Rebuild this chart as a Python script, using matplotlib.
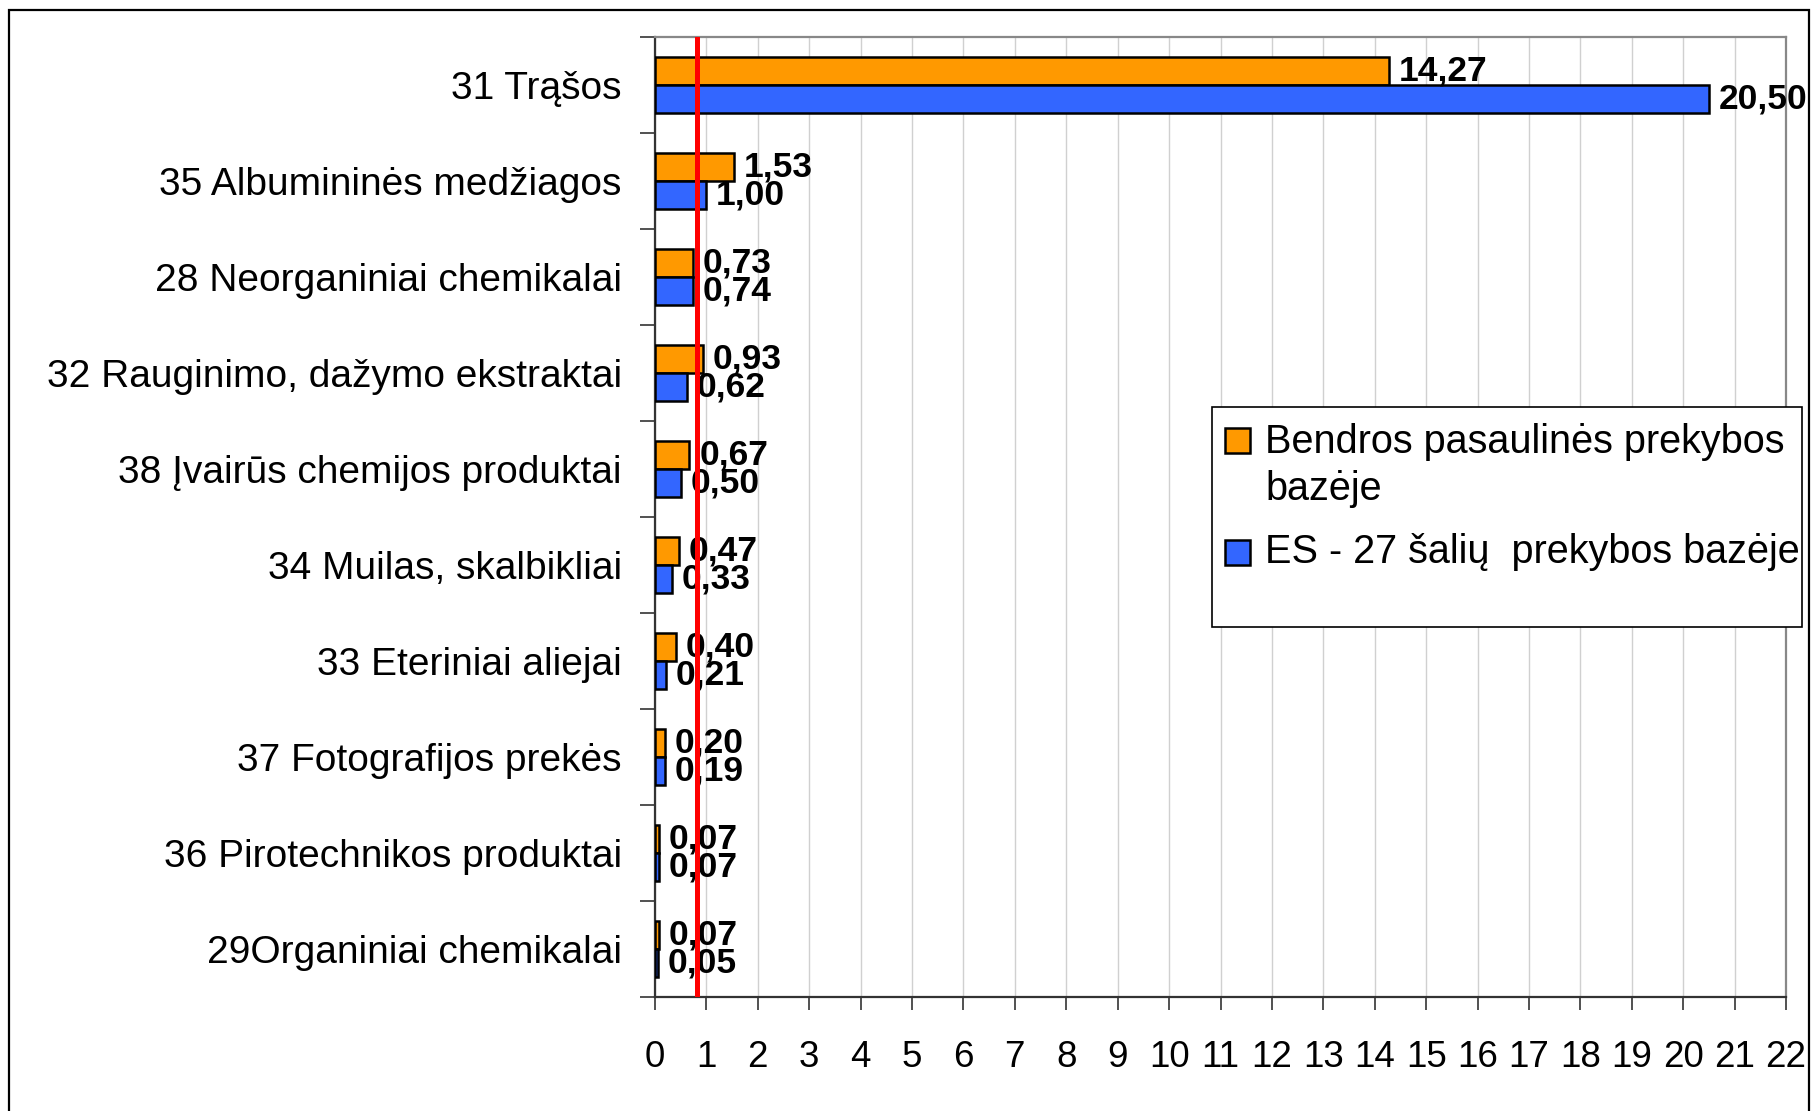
import matplotlib
matplotlib.use("Agg")
import matplotlib.pyplot as plt
from matplotlib.patches import Rectangle

# ==========================================================
# Data
# ==========================================================

categories = [
    "31 Trąšos",
    "35 Albumininės medžiagos",
    "28 Neorganiniai chemikalai",
    "32 Rauginimo, dažymo ekstraktai",
    "38 Įvairūs chemijos produktai",
    "34 Muilas, skalbikliai",
    "33 Eteriniai aliejai",
    "37 Fotografijos prekės",
    "36 Pirotechnikos produktai",
    "29Organiniai chemikalai",
]

world_values = [14.27, 1.53, 0.73, 0.93, 0.67, 0.47, 0.40, 0.20, 0.07, 0.07]
eu_values = [20.50, 1.00, 0.74, 0.62, 0.50, 0.33, 0.21, 0.19, 0.07, 0.05]

series_names = [
    "Bendros pasaulinės prekybos\nbazėje",
    "ES - 27 šalių  prekybos bazėje",
]

ref_line = 0.82
x_ticks = list(range(0, 23))

# ==========================================================
# Style
# ==========================================================

plt.rcParams["font.family"] = ["Liberation Sans", "DejaVu Sans"]

orange = "#FF9900"
blue = "#3366FF"
series_colors = [orange, blue]

W, H = 1811, 1111
fig = plt.figure(figsize=(W / 100, H / 100), dpi=100)

# outer frame
fig.patches.append(
    Rectangle(
        (9 / W, -0.05),
        1800 / W,
        1 - 10 / H + 0.05,
        transform=fig.transFigure,
        fill=False,
        edgecolor="black",
        linewidth=1.6,
    )
)

ax = fig.add_axes([655 / W, 1 - 997 / H, 1131 / W, 960 / H])

bar_h = 0.29
pos = list(range(len(categories)))

ax.barh(
    [p - bar_h / 2 for p in pos],
    world_values,
    height=bar_h,
    color=orange,
    edgecolor="black",
    linewidth=1.8,
    zorder=3,
)

ax.barh(
    [p + bar_h / 2 for p in pos],
    eu_values,
    height=bar_h,
    color=blue,
    edgecolor="black",
    linewidth=1.8,
    zorder=3,
)

for p, v in zip(pos, world_values):
    ax.annotate(
        f"{v:.2f}".replace(".", ","),
        (v, p - bar_h / 2),
        xytext=(7, 0),
        textcoords="offset points",
        va="center",
        ha="left",
        fontsize=25.5,
        fontweight="bold",
        zorder=5,
    )

for p, v in zip(pos, eu_values):
    ax.annotate(
        f"{v:.2f}".replace(".", ","),
        (v, p + bar_h / 2),
        xytext=(7, 0),
        textcoords="offset points",
        va="center",
        ha="left",
        fontsize=25.5,
        fontweight="bold",
        zorder=5,
    )

ax.axvline(ref_line, color="#FF0000", linewidth=3.6, zorder=6)

ax.set_xlim(0, 22)
ax.set_ylim(len(categories) - 0.5, -0.5)

ax.set_xticks(x_ticks)
ax.set_xticklabels([str(t) for t in x_ticks], fontsize=26.5)
ax.tick_params(axis="x", length=9, width=1.2, color="#333333", pad=22)

ax.set_yticks(pos)
ax.set_yticklabels(categories, fontsize=28)
ax.set_yticks([p - 0.5 for p in pos] + [len(categories) - 0.5], minor=True)
ax.tick_params(axis="y", which="major", length=0, pad=24)
ax.tick_params(axis="y", which="minor", length=11, width=1.2, color="#333333")

ax.grid(axis="x", color="#D0D0D0", linewidth=1.0, zorder=0)
ax.set_axisbelow(True)

for side in ["left", "bottom"]:
    ax.spines[side].set_color("#333333")
    ax.spines[side].set_linewidth(1.6)
for side in ["top", "right"]:
    ax.spines[side].set_color("#888888")
    ax.spines[side].set_linewidth(1.6)

# ==========================================================
# Legend (drawn by hand so the marker sits on the first line)
# ==========================================================

fig.patches.append(
    Rectangle(
        (1212 / W, 1 - 627 / H),
        590 / W,
        220 / H,
        transform=fig.transFigure,
        facecolor="white",
        edgecolor="black",
        linewidth=1.2,
        zorder=8,
    )
)

marker_tops = [428, 540]
# baseline of the last line of each label (pixels from top)
baselines = [500, 563]

for name, col, mtop, base in zip(series_names, series_colors, marker_tops, baselines):
    fig.patches.append(
        Rectangle(
            (1225 / W, 1 - (mtop + 25) / H),
            25 / W,
            25 / H,
            transform=fig.transFigure,
            facecolor=col,
            edgecolor="black",
            linewidth=1.8,
            zorder=9,
        )
    )
    fig.text(
        1265 / W,
        1 - base / H,
        name,
        fontsize=28.5,
        va="baseline",
        ha="left",
        linespacing=1.3,
        zorder=10,
    )

fig.savefig("out.png", dpi=100)
